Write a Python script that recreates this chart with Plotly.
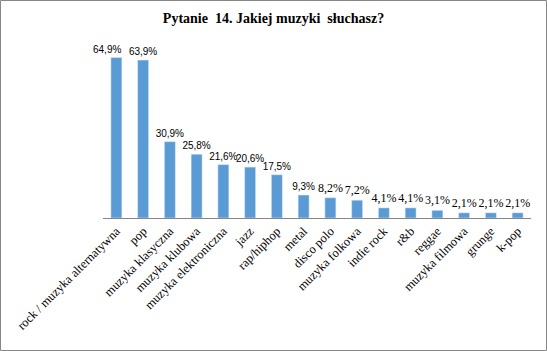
import plotly.graph_objects as go

categories = ["rock / muzyka alternatywna", "pop", "muzyka klasyczna", "muzyka klubowa",
              "muzyka elektroniczna", "jazz", "rap/hiphop", "metal", "disco polo",
              "muzyka folkowa", "indie rock", "r&b", "reggae", "muzyka filmowa",
              "grunge", "k-pop"]
values = [64.9, 63.9, 30.9, 25.8, 21.6, 20.6, 17.5, 9.3, 8.2, 7.2, 4.1, 4.1, 3.1, 2.1, 2.1, 2.1]
labels = [f"{v:.1f}".replace(".", ",") + "%" for v in values]
split = 8  # first labels drawn in sans, remaining in serif (as in the source)

W, H = 547, 351
ml, mr, mt, mb = 103, 16, 45, 133
pw, ph = W - ml - mr, H - mt - mb

sans = dict(family="Liberation Sans", size=10, color="#000000")
serif = dict(family="Liberation Serif", size=12, color="#000000")

# first label is nudged left in the source, drawn as an annotation
bar_text_a = [""] + labels[1:split]

fig = go.Figure()
fig.add_trace(go.Bar(
    x=categories[:split], y=values[:split], text=bar_text_a, textposition="outside",
    constraintext="none", textfont=sans, outsidetextfont=sans,
    marker=dict(color="#5B9BD5"), cliponaxis=False,
))
fig.add_trace(go.Bar(
    x=categories[split:], y=values[split:], text=labels[split:], textposition="outside",
    constraintext="none", textfont=serif, outsidetextfont=serif,
    marker=dict(color="#5B9BD5"), cliponaxis=False,
))
fig.add_annotation(x=categories[0], y=values[0], text=labels[0], showarrow=False,
                   xanchor="center", yanchor="bottom", xshift=-9, yshift=1,
                   font=sans)

fig.update_layout(
    width=W, height=H,
    margin=dict(l=ml, r=mr, t=mt, b=mb, autoexpand=False),
    paper_bgcolor="white", plot_bgcolor="white",
    font=dict(family="Liberation Serif", color="#000000"),
    barmode="overlay",
    bargap=0.59,
    showlegend=False,
    title=dict(text="<b>Pytanie\u00a0 14. Jakiej muzyki\u00a0 słuchasz?</b>",
               x=0.5, xref="container", xanchor="center", y=1 - 18 / H, yanchor="middle",
               font=dict(family="Liberation Serif", size=14, color="#000000")),
    xaxis=dict(type="category", categoryorder="array", categoryarray=categories,
               range=[-0.5, len(categories) - 0.5], automargin=False,
               tickangle=-45, showline=True, linecolor="#868686", linewidth=1,
               ticks="", showgrid=False,
               tickfont=dict(family="Liberation Serif", size=12.5, color="#000000")),
    yaxis=dict(range=[0, 70], visible=False, showgrid=False, automargin=False),
    shapes=[dict(type="rect", xref="paper", yref="paper",
                 x0=(0.5 - ml) / pw, x1=(W - 0.5 - ml) / pw,
                 y0=(H - mb - (H - 0.5)) / ph, y1=(H - mb - 0.5) / ph,
                 line=dict(color="#868686", width=1))],
)

fig.write_html("out.html")
